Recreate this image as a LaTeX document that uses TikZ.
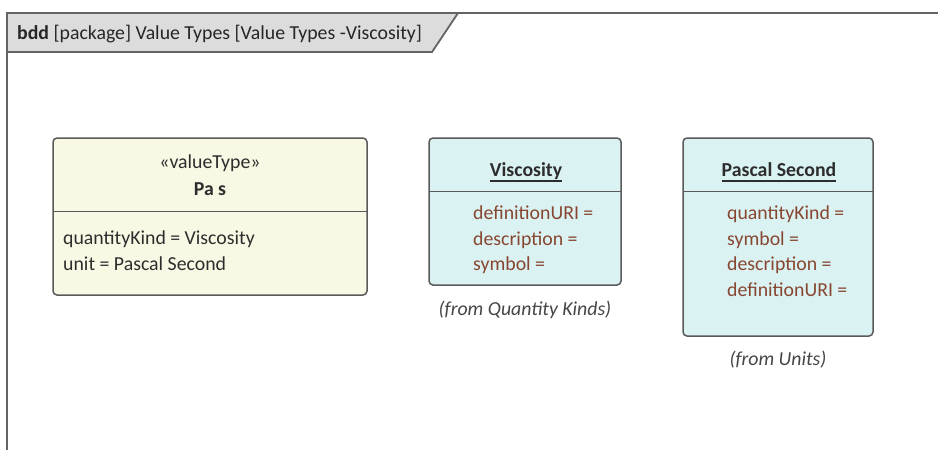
\documentclass[tikz,border=0pt]{standalone}
\usepackage{fontspec}
\setmainfont{Carlito}
\definecolor{framegray}{RGB}{100,100,100}
\definecolor{headfill}{RGB}{220,220,220}
\definecolor{yfill}{RGB}{249,248,228}
\definecolor{cfill}{RGB}{219,242,243}
\definecolor{boxline}{RGB}{90,90,90}
\definecolor{attr}{RGB}{135,70,48}
\definecolor{txt}{RGB}{45,45,45}
\definecolor{note}{RGB}{70,70,70}
\begin{document}
\begin{tikzpicture}[x=1pt,y=-1pt,
  box/.style={draw=boxline,line width=1.5pt,rounded corners=4pt},
  divider/.style={draw=boxline,line width=1.5pt},
  lbl/.style={inner sep=0pt,font=\fontsize{19.8}{23}\selectfont,text=txt},
  attrlbl/.style={lbl,anchor=base west,text=attr},
  notelbl/.style={lbl,anchor=base,text=note,font=\fontsize{19.8}{23}\selectfont\itshape},
  uline/.style={draw=txt,line width=1.2pt}]
\useasboundingbox (0,0) rectangle (938,450);
\fill[white] (0,0) rectangle (938,450);
% frame
\fill[headfill] (7,13) -- (458,13) -- (432,52) -- (7,52) -- cycle;
\draw[framegray,line width=1.8pt] (458,13) -- (432,52) -- (7,52);
\draw[framegray,line width=1.8pt] (7,450) -- (7,13) -- (938,13);
\node[lbl,anchor=base west,text=black!85] (hdr) at (17,39) {\textbf{bdd} [package] Value Types [Value Types -Viscosity]};
% box 1
\path[box,fill=yfill] (53,138) rectangle (367,295);
\draw[divider] (53,211.5) -- (367,211.5);
\node[lbl,anchor=base] (st1) at (210,168) {«valueType»};
\node[lbl,anchor=base] (n1) at (210,195) {\textbf{Pa s}};
\node[attrlbl,text=txt] (a11) at (63,244) {quantityKind = Viscosity};
\node[attrlbl,text=txt] (a12) at (63,270) {unit = Pascal Second};
% box 2
\path[box,fill=cfill] (429,138) rectangle (621,285);
\draw[divider] (429,191.5) -- (621,191.5);
\node[lbl,anchor=base] (n2) at (526,176) {\textbf{Viscosity}};
\draw[uline] ([yshift=-5pt]n2.base west) -- ([yshift=-5pt]n2.base east);
\node[attrlbl] (a21) at (473,219) {definitionURI =};
\node[attrlbl] (a22) at (473,245) {description =};
\node[attrlbl] (a23) at (473,270) {symbol =};
\node[notelbl] (f2) at (525,315) {(from Quantity Kinds)};
% box 3
\path[box,fill=cfill] (683,138) rectangle (873,336);
\draw[divider] (683,191.5) -- (873,191.5);
\node[lbl,anchor=base] (n3) at (779,176) {\textbf{Pascal Second}};
\draw[uline] ([yshift=-5pt]n3.base west) -- ([yshift=-5pt]n3.base east);
\node[attrlbl] (a31) at (727,219) {quantityKind =};
\node[attrlbl] (a32) at (727,245) {symbol =};
\node[attrlbl] (a33) at (727,270) {description =};
\node[attrlbl] (a34) at (727,296) {definitionURI =};
\node[notelbl] (f3) at (778,365) {(from Units)};
\end{tikzpicture}
\end{document}
